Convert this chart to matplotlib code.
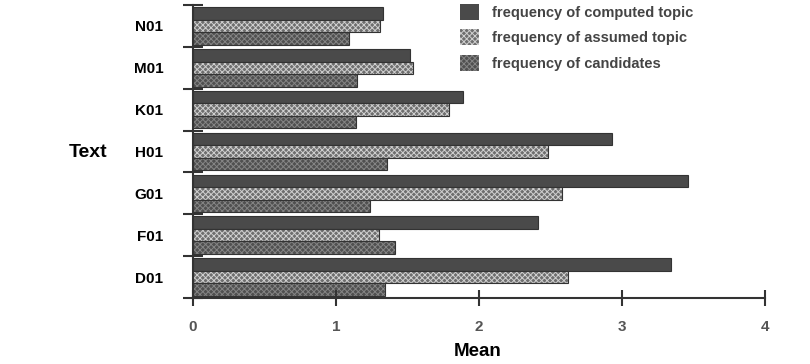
import matplotlib
matplotlib.use("Agg")
import matplotlib.pyplot as plt
from matplotlib.patches import Patch
import numpy as np

categories = ["D01", "F01", "G01", "H01", "K01", "M01", "N01"]
computed = [3.34, 2.41, 3.46, 2.93, 1.89, 1.52, 1.33]
assumed = [2.62, 1.30, 2.58, 2.48, 1.79, 1.54, 1.31]
candidates = [1.34, 1.41, 1.24, 1.36, 1.14, 1.15, 1.09]
series_names = ["frequency of computed topic", "frequency of assumed topic", "frequency of candidates"]
xticks = [0, 1, 2, 3, 4]

plt.rcParams['font.family'] = ['Liberation Sans', 'DejaVu Sans']
plt.rcParams['hatch.linewidth'] = 0.7

fig = plt.figure(figsize=(8.1, 3.64), dpi=100)
ax = fig.add_axes([193/810, 1-298/364, (765-193)/810, (298-5)/364])

y = np.arange(len(categories))
h = 0.3
styles = [
    dict(face="#4a4a4a", hatchc="#4a4a4a", hatch=None),
    dict(face="#6e6e6e", hatchc="#d0d0d0", hatch="xxxxxx"),
    dict(face="#505050", hatchc="#858585", hatch="xxxxxx"),
]
offsets = [h, 0, -h]
for vals, st, off in zip([computed, assumed, candidates], styles, offsets):
    ax.barh(y + off, vals, height=h, color=st["face"], edgecolor=st["hatchc"],
            hatch=st["hatch"], linewidth=0)
    ax.barh(y + off, vals, height=h, fill=False, edgecolor="#333333", linewidth=0.8)

ax.set_xlim(0, 4)
ax.set_ylim(-0.5, len(categories) - 0.5)
for s in ["top", "right"]:
    ax.spines[s].set_visible(False)
for s in ["left", "bottom"]:
    ax.spines[s].set_color("#333333")
    ax.spines[s].set_linewidth(1.5)

ax.set_xticks(xticks)
ax.set_xticklabels([str(t) for t in xticks], fontsize=11, fontweight="bold", color="#555555")
ax.tick_params(axis="x", direction="inout", length=12, width=1.5, color="#333333", pad=10)

ax.set_yticks(y)
ax.set_yticklabels(categories, fontsize=11, fontweight="bold")
ax.tick_params(axis="y", which="major", length=0, pad=21.5)
ax.set_yticks(np.arange(-0.5, len(categories)), minor=True)
ax.tick_params(axis="y", which="minor", direction="inout", length=14, width=1.5, color="#333333")

fig.text(478/810, 1-352/364, "Mean", ha="center", va="center", fontsize=13.5, fontweight="bold")
fig.text(88/810, 1-152/364, "Text", ha="center", va="center", fontsize=14, fontweight="bold")

handles = [Patch(facecolor=st["face"], edgecolor=st["hatchc"], hatch=st["hatch"], linewidth=0) for st in styles]
leg = fig.legend(handles, series_names, loc="upper left", bbox_to_anchor=(447/810, 1.025),
                 frameon=False, handlelength=1.3, handleheight=1.3, handletextpad=0.9,
                 labelspacing=0.65, prop=dict(size=10.5, weight="bold"))
for t in leg.get_texts():
    t.set_color("#444444")

fig.savefig("out.png", dpi=100)
